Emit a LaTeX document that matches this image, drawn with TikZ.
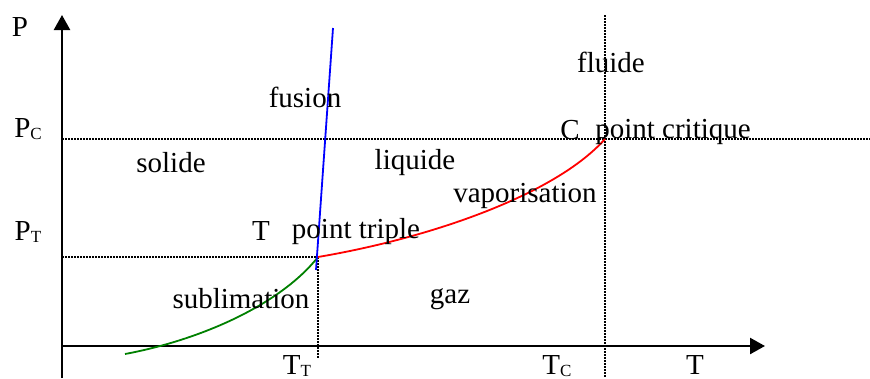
\documentclass[tikz,border=0pt]{standalone}
\usepackage{fontspec}
\setmainfont{Liberation Serif}
\usetikzlibrary{arrows.meta}
\definecolor{subgreen}{HTML}{008000}
\newcommand{\lowsub}[1]{\raisebox{-2pt}{\fontsize{17}{18}\selectfont #1}}

\begin{document}
\begin{tikzpicture}[
  x=1pt, y=-1pt,
  font=\fontsize{29}{33}\selectfont,
  lbl/.style={inner sep=0pt, anchor=center},
  axisline/.style={line width=2.4pt, -{Triangle[length=15pt,width=16pt]}},
  guide/.style={line width=1.5pt, dash pattern=on 1.5pt off 1.5pt},
  phaseline/.style={line width=1.8pt}
]
  \useasboundingbox (0,0) rectangle (870,378);

  % key points of the diagram
  \coordinate (tp) at (318,257);
  \coordinate (cp) at (605,139);
  \coordinate (o) at (62,346);

  % axes
  \draw[axisline] (62,378) -- (62,15) coordinate (ytip);
  \draw[axisline] (o) -- (765,346) coordinate (xtip);

  % dotted guides
  \draw[guide] (o |- cp) -- (870,139);
  \draw[guide] (o |- tp) -- (tp);
  \draw[guide] (tp) -- (318,358);
  \draw[guide] (605,15) -- (605,378);

  % phase boundaries
  \draw[phaseline, subgreen] (125,354) .. controls (200,340) and (280,305) .. (tp);
  \draw[phaseline, red] (tp) .. controls (430,238) and (555,195) .. (cp);
  \draw[phaseline, blue] (316,270) -- (333,28);

  % axis labels
  \node[lbl] (lp) at (20,27) {P};
  \node[lbl] (lpc) at (28,129) {P\lowsub{C}};
  \node[lbl] (lpt) at (28,232) {P\lowsub{T}};
  \node[lbl] (ltt) at (297,366) {T\lowsub{T}};
  \node[lbl] (ltc) at (557,366) {T\lowsub{C}};
  \node[lbl] (lt) at (695,365) {T};

  % region and curve labels
  \node[lbl] (fusion) at (305,97) {fusion};
  \node[lbl] (fluide) at (611,62) {fluide};
  \node[lbl] (solide) at (171,163) {solide};
  \node[lbl] (liquide) at (415,163) {liquide};
  \node[lbl] (vapo) at (525,196) {vaporisation};
  \node[lbl] (tname) at (261,231) {T};
  \node[lbl] (triple) at (356,232) {point triple};
  \node[lbl] (cname) at (570,130) {C};
  \node[lbl] (critique) at (673,132) {point critique};
  \node[lbl] (subli) at (241,299) {sublimation};
  \node[lbl] (gaz) at (450,299) {gaz};
\end{tikzpicture}
\end{document}
